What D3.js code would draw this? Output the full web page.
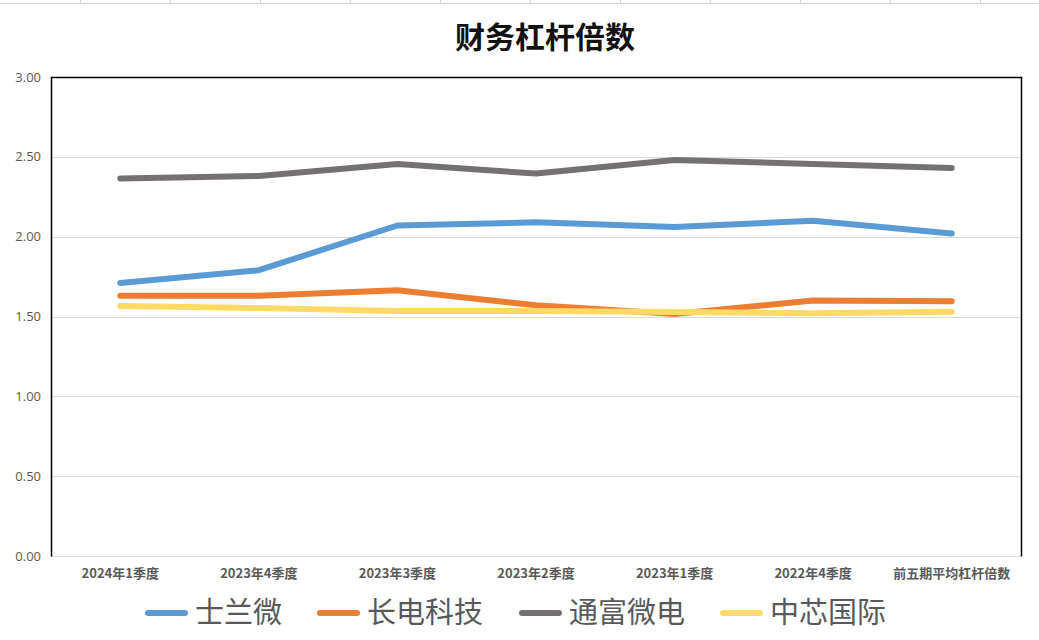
<!DOCTYPE html>
<html lang="zh">
<head>
    <meta charset="UTF-8">
    <title>财务杠杆倍数</title>
    <style type="text/css">
        body { margin: 0; background: #fff; }
        svg { display: block; }
        .ylab { font: 13px "Open Sans", "DejaVu Sans", sans-serif; fill: #595959; }
        .xlab { font: bold 13px "Noto Sans CJK SC", sans-serif; fill: #595959; }
        .legend text { font: 29px "Noto Sans CJK SC", sans-serif; fill: #595959; }
    </style>
</head>
<body>
<svg width="1039" height="640"></svg>

<script src="https://d3js.org/d3.v7.min.js"></script>

<script>
    var title = "财务杠杆倍数";

    var categories = ["2024年1季度", "2023年4季度", "2023年3季度", "2023年2季度",
        "2023年1季度", "2022年4季度", "前五期平均杠杆倍数"];

    var yTicks = [0, 0.5, 1, 1.5, 2, 2.5, 3];

    var seriesNames = ["士兰微", "长电科技", "通富微电", "中芯国际"];

    var silan = [1.71, 1.79, 2.07, 2.09, 2.06, 2.10, 2.02];
    var changdian = [1.63, 1.63, 1.665, 1.57, 1.515, 1.60, 1.595];
    var tongfu = [2.365, 2.38, 2.455, 2.395, 2.48, 2.455, 2.43];
    var smic = [1.565, 1.553, 1.534, 1.534, 1.528, 1.52, 1.53];

    var colors = ["#5b9bd5", "#ed7d31", "#767171", "#ffd966"];

    var series = [silan, changdian, tongfu, smic];

    var svg = d3.select("svg");

    // spreadsheet grid peeking at the top
    svg.append("line")
        .attr("x1", 0).attr("x2", 1039).attr("y1", 3.5).attr("y2", 3.5)
        .attr("stroke", "#d4d4d4");
    d3.range(80, 1039, 90).forEach(function (x) {
        svg.append("line")
            .attr("x1", x + 0.5).attr("x2", x + 0.5).attr("y1", 0).attr("y2", 4)
            .attr("stroke", "#d4d4d4");
    });

    var plotLeft = 51, plotRight = 1021, plotTop = 77, plotBottom = 556;

    var x = d3.scalePoint()
        .domain(categories)
        .range([plotLeft, plotRight])
        .padding(0.5);

    var y = d3.scaleLinear()
        .domain([0, 3])
        .range([plotBottom, plotTop]);

    // title
    svg.append("text")
        .attr("x", 545)
        .attr("y", 48)
        .attr("text-anchor", "middle")
        .style("font", "bold 30px 'Noto Sans CJK SC', sans-serif")
        .style("fill", "#111")
        .text(title);

    // gridlines
    svg.append("g")
        .selectAll("line")
        .data(yTicks)
        .enter().append("line")
        .attr("x1", plotLeft).attr("x2", plotRight)
        .attr("y1", function (d) { return Math.round(y(d)) + 0.5; })
        .attr("y2", function (d) { return Math.round(y(d)) + 0.5; })
        .attr("stroke", "#d9d9d9");

    // y labels
    svg.append("g")
        .selectAll("text")
        .data(yTicks)
        .enter().append("text")
        .attr("class", "ylab")
        .attr("x", 41)
        .attr("y", function (d) { return y(d); })
        .attr("dy", "0.35em")
        .attr("text-anchor", "end")
        .text(function (d) { return d3.format(".2f")(d); });

    // x labels
    svg.append("g")
        .selectAll("text")
        .data(categories)
        .enter().append("text")
        .attr("class", "xlab")
        .attr("x", function (d) { return x(d); })
        .attr("y", 578)
        .attr("text-anchor", "middle")
        .text(function (d) { return d; });

    // plot frame (left, top, right in black)
    svg.append("path")
        .attr("d", "M" + (plotLeft + 0.5) + "," + (plotBottom + 0.5) + "V" + (plotTop + 0.5) +
            "H" + (plotRight + 0.5) + "V" + (plotBottom + 0.5))
        .attr("fill", "none")
        .attr("stroke", "#000")
        .attr("stroke-width", 1.5);

    var line = d3.line()
        .x(function (d, i) { return x(categories[i]); })
        .y(function (d) { return y(d); });

    svg.append("g")
        .selectAll("path")
        .data(series)
        .enter().append("path")
        .attr("d", line)
        .attr("fill", "none")
        .attr("stroke", function (d, i) { return colors[i]; })
        .attr("stroke-width", 6)
        .attr("stroke-linecap", "round")
        .attr("stroke-linejoin", "round");

    // legend
    var legendX = [148, 320, 522, 723];
    var legend = svg.append("g").attr("class", "legend");
    seriesNames.forEach(function (name, i) {
        legend.append("line")
            .attr("x1", legendX[i]).attr("x2", legendX[i] + 37)
            .attr("y1", 613).attr("y2", 613)
            .attr("stroke", colors[i])
            .attr("stroke-width", 6)
            .attr("stroke-linecap", "round");
        legend.append("text")
            .attr("x", legendX[i] + 47)
            .attr("y", 623)
            .text(name);
    });
</script>

</body>
</html>
